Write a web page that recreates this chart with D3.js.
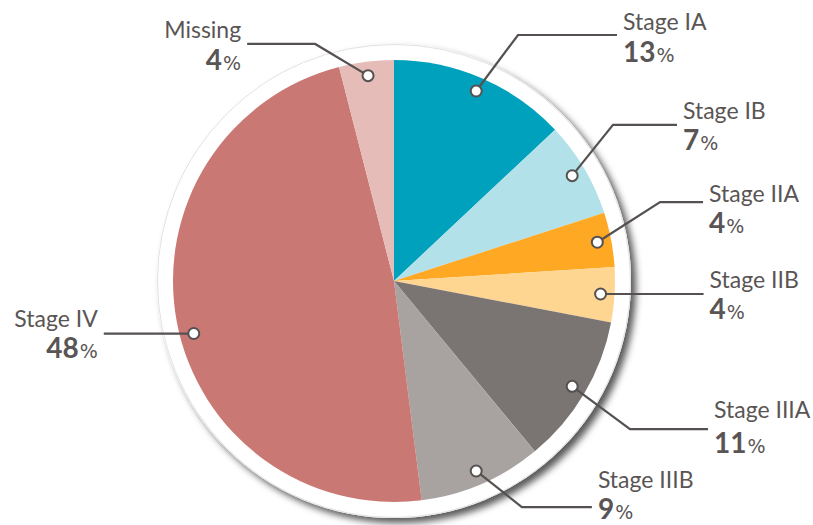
<!DOCTYPE html>
<html>
<head>
<meta charset="utf-8">
<script src="https://cdn.jsdelivr.net/npm/d3@7"></script>
<style>
  html, body { margin: 0; padding: 0; background: #ffffff; }
  svg { display: block; }
</style>
</head>
<body>
<script>
// ---- data ----
const categories = ["Stage IA", "Stage IB", "Stage IIA", "Stage IIB", "Stage IIIA", "Stage IIIB", "Stage IV", "Missing"];
const values = [13, 7, 4, 4, 11, 9, 48, 4];
const sliceColors = ["#00a1bc", "#b2e1e9", "#fea824", "#ffd592", "#7a7472", "#a8a2a1", "#c97873", "#e6bcb9"];

// ---- callout layout (polar offsets from the pie centre) ----
const callouts = [
  { elbowA: 26.75, elbowR: 275.5, len: 99, side: 1, nameDy: -5, pctDy: 32 },
  { elbowA: 54.5, elbowR: 269, len: 64, side: 1, nameDy: -6, pctDy: 31 },
  { elbowA: 73.5, elbowR: 277.5, len: 43, side: 1, nameDy: 0, pctDy: 31 },
  { elbowA: null, len: 103, side: 1, nameDy: -6, pctDy: 31 },
  { elbowA: 122.1, elbowR: 278.6, len: 78, side: 1, nameDy: -11, pctDy: 35 },
  { elbowA: 150.5, elbowR: 259.7, len: 70, side: 1, nameDy: -19, pctDy: 30.5 },
  { elbowA: null, dotShift: -3.9, len: 90, side: -1, nameDy: -7, pctDy: 31 },
  { elbowA: 341.6, elbowR: 249.8, len: 68, side: -1, nameDy: -6, pctDy: 32 }
];

const W = 813, H = 525;
const cx = 394, cy = 281;
const R = 221, ringR = 237, dotR = 207;
const textColor = "#5a5555";
const lineColor = "#555151";

const svg = d3.select("body").append("svg").attr("width", W).attr("height", H);

const defs = svg.append("defs");
const f = defs.append("filter").attr("id", "shadow")
  .attr("x", "-20%").attr("y", "-20%").attr("width", "140%").attr("height", "140%");
f.append("feDropShadow").attr("dx", 5).attr("dy", 5).attr("stdDeviation", 3.5)
  .attr("flood-color", "#000").attr("flood-opacity", 0.65);

const g = svg.append("g").attr("transform", `translate(${cx},${cy})`);

// white ring with shadow
g.append("circle").attr("r", ringR).attr("fill", "#ffffff").attr("filter", "url(#shadow)");
g.append("circle").attr("r", ringR - 0.5).attr("fill", "none").attr("stroke", "#e2e2e2").attr("stroke-width", 1);

const pie = d3.pie().sort(null).value(d => d.v).startAngle(0).endAngle(2 * Math.PI);
const arc = d3.arc().innerRadius(0).outerRadius(R);
const color = d3.scaleOrdinal().domain(categories).range(sliceColors);

const arcs = pie(categories.map((c, i) => ({ c, v: values[i], i })));

g.selectAll("path.slice").data(arcs).enter().append("path")
  .attr("class", "slice")
  .attr("d", arc)
  .attr("fill", d => color(d.data.c));

function polar(angDeg, r) {
  const a = angDeg * Math.PI / 180;
  return [r * Math.sin(a), -r * Math.cos(a)];
}

const calloutG = g.append("g");
arcs.forEach((d, i) => {
  const co = callouts[i];
  const midDeg = (d.startAngle + d.endAngle) / 2 * 180 / Math.PI + (co.dotShift || 0);
  const dot = polar(midDeg, dotR);
  const elbow = co.elbowA == null ? dot : polar(co.elbowA, co.elbowR);
  const end = [elbow[0] + co.side * co.len, elbow[1]];
  calloutG.append("polyline")
    .attr("points", [dot, elbow, end].map(p => p.join(",")).join(" "))
    .attr("fill", "none").attr("stroke", lineColor).attr("stroke-width", 2.2);
  calloutG.append("circle").attr("cx", dot[0]).attr("cy", dot[1]).attr("r", 5.5)
    .attr("fill", "#ffffff").attr("stroke", lineColor).attr("stroke-width", 2);

  const tx = end[0] + co.side * 6;
  const anchor = co.side > 0 ? "start" : "end";
  calloutG.append("text")
    .attr("x", tx).attr("y", end[1] + co.nameDy)
    .attr("text-anchor", anchor)
    .attr("font-family", "Lato, 'Open Sans', sans-serif")
    .attr("font-size", 23)
    .attr("fill", textColor)
    .text(d.data.c);
  const t = calloutG.append("text")
    .attr("x", tx).attr("y", end[1] + co.nameDy + co.pctDy)
    .attr("text-anchor", anchor)
    .attr("fill", textColor);
  t.append("tspan")
    .attr("font-family", "Lato, 'Open Sans', sans-serif")
    .attr("font-weight", "bold").attr("font-size", 28)
    .text(d3.format("d")(d.data.v));
  t.append("tspan")
    .attr("font-family", "'DejaVu Sans', sans-serif")
    .attr("font-size", 19).attr("dx", 1)
    .text("%");
});
</script>
</body>
</html>
